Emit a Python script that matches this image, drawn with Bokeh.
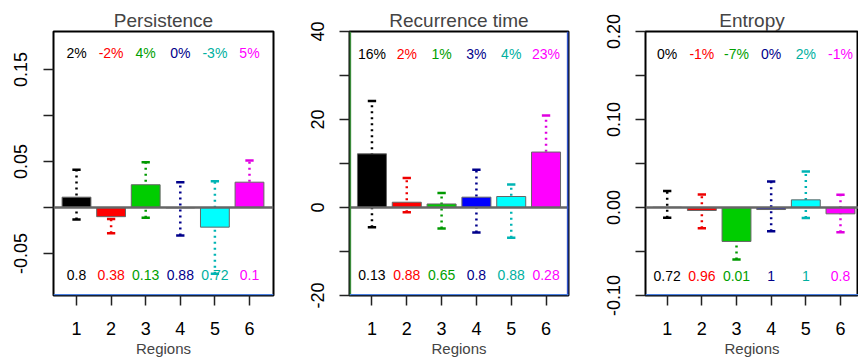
from bokeh.plotting import figure
from bokeh.layouts import row
from bokeh.models import FixedTicker, PrintfTickFormatter, Span, ColumnDataSource
from bokeh.core.properties import value
from bokeh.embed import file_html
from bokeh.resources import INLINE

regions = ["1", "2", "3", "4", "5", "6"]
region_idx = [1, 2, 3, 4, 5, 6]

persistence_mean = [0.0112, -0.0100, 0.0247, -0.0004, -0.0214, 0.0275]
persistence_lower = [-0.0130, -0.0280, -0.0112, -0.0305, -0.0720, 0.0150]
persistence_upper = [0.0410, -0.0125, 0.0492, 0.0275, 0.0286, 0.0510]
persistence_pct = ["2%", "-2%", "4%", "0%", "-3%", "5%"]
persistence_p = ["0.8", "0.38", "0.13", "0.88", "0.72", "0.1"]

recurrence_mean = [12.2, 1.2, 0.8, 2.35, 2.5, 12.6]
recurrence_lower = [-4.5, -1.1, -4.8, -5.7, -6.9, 4.5]
recurrence_upper = [24.2, 6.7, 3.3, 8.6, 5.2, 20.9]
recurrence_pct = ["16%", "2%", "1%", "3%", "4%", "23%"]
recurrence_p = ["0.13", "0.88", "0.65", "0.8", "0.88", "0.28"]

entropy_mean = [0.0003, -0.0034, -0.0386, -0.0023, 0.0087, -0.0072]
entropy_lower = [-0.0117, -0.0235, -0.0590, -0.0270, -0.0120, -0.0280]
entropy_upper = [0.0188, 0.0148, -0.0200, 0.0295, 0.0410, 0.0144]
entropy_pct = ["0%", "-1%", "-7%", "0%", "2%", "-1%"]
entropy_p = ["0.72", "0.96", "0.01", "1", "1", "0.8"]

bar_fill = ["#000000", "#ff0000", "#00cd00", "#0000ff", "#00ffff", "#ff00ff"]
err_color = ["#000000", "#ee0000", "#009900", "#00008b", "#00b4b4", "#e000e0"]
txt_color = ["#000000", "#ff0000", "#00a000", "#00008b", "#00b0a0", "#ff00ff"]

FONT = "Liberation Sans"


def panel(title, mean, lower, upper, pct, pv, yr, xr, major, minor, fmt,
          pct_y, p_y, borders, fw, ml, mr):
    p = figure(frame_width=fw, frame_height=264, min_border_left=ml,
               min_border_right=mr, min_border_top=31, min_border_bottom=67,
               x_range=xr, y_range=yr, output_backend="svg",
               toolbar_location=None,
               outline_line_color="#000000", outline_line_width=2,
               background_fill_color="white", border_fill_color="white")
    p.grid.visible = False
    p.title.text = title
    p.title.align = "center"
    p.title.text_font = FONT
    p.title.text_font_size = "19px"
    p.title.text_font_style = "normal"
    p.title.standoff = 2

    ax = p.yaxis[0]
    ax.ticker = FixedTicker(ticks=major, minor_ticks=minor)
    ax.formatter = PrintfTickFormatter(format=fmt)
    ax.axis_line_color = None
    ax.major_tick_in = 0
    ax.major_tick_out = 10
    ax.minor_tick_in = 0
    ax.minor_tick_out = 10
    ax.major_tick_line_color = "#222222"
    ax.minor_tick_line_color = "#222222"
    ax.major_tick_line_width = 1.5
    ax.minor_tick_line_width = 1.5
    ax.major_label_orientation = "vertical"
    ax.major_label_text_font = FONT
    ax.major_label_text_font_size = "18px"
    ax.major_label_text_color = "#000000"
    ax.major_label_standoff = 16

    xa = p.xaxis[0]
    xa.ticker = FixedTicker(ticks=region_idx, minor_ticks=[])
    xa.major_label_overrides = {i: r for i, r in zip(region_idx, regions)}
    xa.axis_line_color = None
    xa.major_tick_in = 0
    xa.major_tick_out = 10
    xa.major_tick_line_color = "#222222"
    xa.major_tick_line_width = 1.5
    xa.major_label_text_font = FONT
    xa.major_label_text_font_size = "18px"
    xa.major_label_text_color = "#000000"
    xa.major_label_standoff = 16
    xa.axis_label = "Regions"
    xa.axis_label_text_font = FONT
    xa.axis_label_text_font_size = "15px"
    xa.axis_label_text_font_style = "normal"
    xa.axis_label_standoff = 2

    src = ColumnDataSource(dict(x=region_idx, mean=mean, lower=lower, upper=upper,
                                fill=bar_fill, ec=err_color, tc=txt_color,
                                pct=pct, pv=pv))
    # error bars (dotted) and caps
    p.segment(x0="x", x1="x", y0="lower", y1="upper", source=src,
              line_color="ec", line_width=2.5, line_dash="2 4")
    cap = 0.12
    csrc = ColumnDataSource(dict(
        x0=[i - cap for i in region_idx] * 2, x1=[i + cap for i in region_idx] * 2,
        y=list(lower) + list(upper), c=err_color * 2))
    p.segment(x0="x0", x1="x1", y0="y", y1="y", source=csrc,
              line_color="c", line_width=2.5)
    # bars
    p.vbar(x="x", width=0.833, top="mean", bottom=0, source=src,
           fill_color="fill", line_color="#666666", line_width=1)
    # zero line
    p.add_layout(Span(location=0, dimension="width", line_color="#666666",
                      line_width=2.5, level="overlay"))
    # label rows
    p.text(x="x", y=pct_y, text="pct", source=src, text_color="tc",
           text_font=value(FONT), text_font_size="14px",
           text_align="center", text_baseline="middle")
    p.text(x="x", y=p_y, text="pv", source=src, text_color="tc",
           text_font=value(FONT), text_font_size="14px",
           text_align="center", text_baseline="middle")
    # box edges with their own colours
    left_c, right_c, bottom_c = borders
    xs = xr[1] - xr[0]
    ys = yr[1] - yr[0]
    ex, ey = xs * 0.003, ys * 0.003
    if left_c:
        p.add_layout(Span(location=xr[0] + ex, dimension="height",
                          line_color=left_c, line_width=2, level="overlay"))
    if right_c:
        p.add_layout(Span(location=xr[1] - ex, dimension="height",
                          line_color=right_c, line_width=2, level="overlay"))
    if bottom_c:
        p.add_layout(Span(location=yr[0] + ey, dimension="width",
                          line_color=bottom_c, line_width=1.5, level="overlay"))
    return p


p1 = panel("Persistence", persistence_mean, persistence_lower, persistence_upper,
           persistence_pct, persistence_p, (-0.0957, 0.1913), (0.335, 6.694),
           [-0.05, 0.05, 0.15], [0.0, 0.1], "%.2f", 0.1674, -0.0739,
           (None, None, "#4a7fe0"), 220, 53, 17)
p2 = panel("Recurrence time", recurrence_mean, recurrence_lower, recurrence_upper,
           recurrence_pct, recurrence_p, (-20, 40), (0.355, 6.645),
           [-20, 0, 20, 40], [-10, 10, 30], "%d", 35.0, -15.45,
           ("#3c8c3c", "#3355cc", "#4a7fe0"), 219, 59, 12)
p3 = panel("Entropy", entropy_mean, entropy_lower, entropy_upper,
           entropy_pct, entropy_p, (-0.1, 0.2), (0.374, 6.52),
           [-0.1, 0.0, 0.1, 0.2], [-0.05, 0.05, 0.15], "%.2f", 0.175, -0.0773,
           (None, None, "#4a7fe0"), 213, 65, 0)

layout = row(p1, p2, p3, spacing=0)
open("out.html", "w").write(file_html(layout, INLINE))
